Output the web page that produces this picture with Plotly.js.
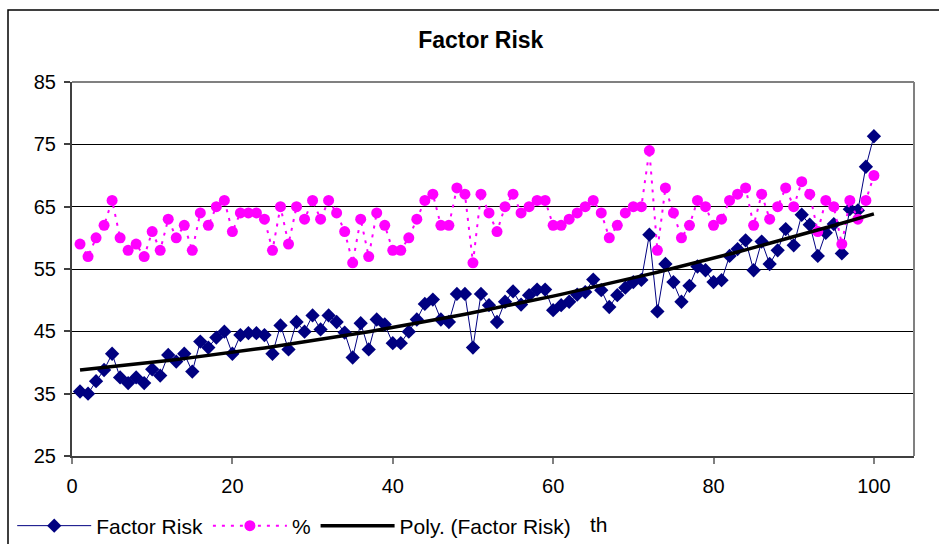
<!DOCTYPE html>
<html>
<head>
<meta charset="utf-8">
<script src="https://cdn.plot.ly/plotly-3.0.1.min.js"></script>
<style>
html,body{margin:0;padding:0;background:#fff;}
#chart{width:939px;height:544px;}
</style>
</head>
<body>
<div id="chart"></div>
<script>
// Month index 1..100
const months = Array.from({length: 100}, (_, i) => i + 1);

const factorRisk = [
  35.35, 35.0, 37.0, 38.8, 41.4, 37.6, 36.7, 37.6, 36.7, 38.9,
  37.9, 41.2, 40.15, 41.4, 38.55, 43.35, 42.4, 44.0, 44.95, 41.4,
  44.4, 44.7, 44.7, 44.4, 41.4, 45.95, 42.1, 46.5, 44.95, 47.55,
  45.3, 47.55, 46.5, 44.8, 40.8, 46.3, 42.1, 46.9, 46.1, 43.1,
  43.1, 44.95, 46.9, 49.4, 50.1, 46.9, 46.5, 51.0, 51.0, 42.4,
  51.0, 49.2, 46.5, 49.75, 51.4, 49.3, 50.8, 51.7, 51.7, 48.4,
  49.2, 49.75, 50.9, 51.3, 53.3, 51.6, 48.9, 50.8, 52.0, 52.9,
  53.25, 60.5, 48.2, 55.8, 52.9, 49.75, 52.3, 55.4, 54.8, 52.9,
  53.2, 57.1, 58.2, 59.6, 54.8, 59.4, 55.8, 58.0, 61.4, 58.8,
  63.7, 62.1, 57.1, 60.8, 62.2, 57.5, 64.6, 64.4, 71.4, 76.3
];

const percent = [
  59, 57, 60, 62, 66, 60, 58, 59, 57, 61,
  58, 63, 60, 62, 58, 64, 62, 65, 66, 61,
  64, 64, 64, 63, 58, 65, 59, 65, 63, 66,
  63, 66, 64, 61, 56, 63, 57, 64, 62, 58,
  58, 60, 63, 66, 67, 62, 62, 68, 67, 56,
  67, 64, 61, 65, 67, 64, 65, 66, 66, 62,
  62, 63, 64, 65, 66, 64, 60, 62, 64, 65,
  65, 74, 58, 68, 64, 60, 62, 66, 65, 62,
  63, 66, 67, 68, 62, 67, 63, 65, 68, 65,
  69, 67, 61, 66, 65, 59, 66, 63, 66, 70
];

const yTicks = [25, 35, 45, 55, 65, 75, 85];
const xTicks = [0, 20, 40, 60, 80, 100];

// Order-2 polynomial least-squares trendline of Factor Risk (as the spreadsheet's "Poly." trendline)
function polyFit2(xs, ys) {
  let s = [0,0,0,0,0], t = [0,0,0];
  for (let i = 0; i < xs.length; i++) {
    const x = xs[i], y = ys[i];
    let p = 1;
    for (let k = 0; k < 5; k++) { s[k] += p; p *= x; }
    t[0] += y; t[1] += y * x; t[2] += y * x * x;
  }
  const A = [[s[0], s[1], s[2], t[0]], [s[1], s[2], s[3], t[1]], [s[2], s[3], s[4], t[2]]];
  for (let c = 0; c < 3; c++) {
    for (let r = c + 1; r < 3; r++) {
      const f = A[r][c] / A[c][c];
      for (let k = c; k < 4; k++) A[r][k] -= f * A[c][k];
    }
  }
  const b = [0,0,0];
  for (let r = 2; r >= 0; r--) {
    let v = A[r][3];
    for (let k = r + 1; k < 3; k++) v -= A[r][k] * b[k];
    b[r] = v / A[r][r];
  }
  return b;
}
const coef = polyFit2(months, factorRisk);
const trend = months.map(x => coef[0] + coef[1] * x + coef[2] * x * x);

const FONT = 'Liberation Sans, Arial, sans-serif';

const traces = [
  {
    x: months, y: factorRisk, name: 'Factor Risk', type: 'scatter', mode: 'lines+markers',
    line: {color: '#000080', width: 1},
    marker: {symbol: 'diamond', size: 11, color: '#000080'}
  },
  {
    x: months, y: percent, name: '%', type: 'scatter', mode: 'lines+markers',
    line: {color: '#FF00FF', width: 2, dash: '3px,6px'},
    marker: {symbol: 'circle', size: 11, color: '#FF00FF'}
  },
  {
    x: months, y: trend, name: 'Poly. (Factor Risk)', type: 'scatter', mode: 'lines',
    line: {color: '#000000', width: 3.5}
  }
];

const layout = {
  width: 939, height: 544,
  margin: {l: 72, r: 25, t: 82, b: 88, autoexpand: false},
  paper_bgcolor: '#ffffff', plot_bgcolor: '#ffffff',
  font: {family: FONT, size: 20, color: '#000'},
  title: {
    text: '<b>Factor Risk</b>', font: {family: FONT, size: 23, color: '#000'},
    x: 0.512, xref: 'container', xanchor: 'center',
    y: 1 - 40 / 544, yref: 'container', yanchor: 'middle'
  },
  xaxis: {
    range: [0, 105], tickvals: xTicks, ticktext: xTicks.map(String),
    showgrid: false, zeroline: false, automargin: false,
    showline: true, linecolor: '#404040', linewidth: 2,
    ticks: 'outside', ticklen: 6, tickwidth: 2, tickcolor: '#808080',
    ticklabelstandoff: 5,
    tickfont: {family: FONT, size: 20, color: '#000'}
  },
  yaxis: {
    range: [25, 85], tickvals: yTicks, ticktext: yTicks.map(String),
    showgrid: true, gridcolor: '#000000', gridwidth: 1, zeroline: false, automargin: false,
    showline: true, linecolor: '#404040', linewidth: 2,
    ticks: 'outside', ticklen: 6, tickwidth: 2, tickcolor: '#404040',
    ticklabelstandoff: 4,
    tickfont: {family: FONT, size: 20, color: '#000'}
  },
  showlegend: true,
  legend: {
    orientation: 'h', x: -0.071, xanchor: 'left', y: (456 - 526) / 374, yanchor: 'middle',
    font: {family: FONT, size: 21, color: '#000'},
    bgcolor: 'rgba(0,0,0,0)', itemwidth: 74, tracegroupgap: 0
  },
  shapes: [
    // plot-area top and right borders (gray)
    {type: 'line', xref: 'paper', yref: 'paper', x0: 0, x1: 1, y0: 1, y1: 1, line: {color: '#808080', width: 2}, layer: 'above'},
    {type: 'line', xref: 'paper', yref: 'paper', x0: 1, x1: 1, y0: 0, y1: 1, line: {color: '#808080', width: 2}, layer: 'above'},
    // outer chart border (cut off by the window on right and bottom)
    {type: 'rect', xref: 'paper', yref: 'paper', x0: (8 - 72) / 842, x1: 1.2, y0: -0.6, y1: 1 + (82 - 10) / 374,
     line: {color: '#000000', width: 1.5}, fillcolor: 'rgba(0,0,0,0)', layer: 'below'}
  ],
  annotations: [
    // visible tail of the x-axis title, the rest hidden behind the legend in the original
    {text: 'th', xref: 'paper', yref: 'paper',
     x: (610 - 72) / 842, xanchor: 'right', y: (456 - 524) / 374, yanchor: 'middle',
     showarrow: false, font: {family: FONT, size: 21, color: '#000'}}
  ]
};

Plotly.newPlot('chart', traces, layout, {displayModeBar: false, staticPlot: true});
</script>
</body>
</html>
